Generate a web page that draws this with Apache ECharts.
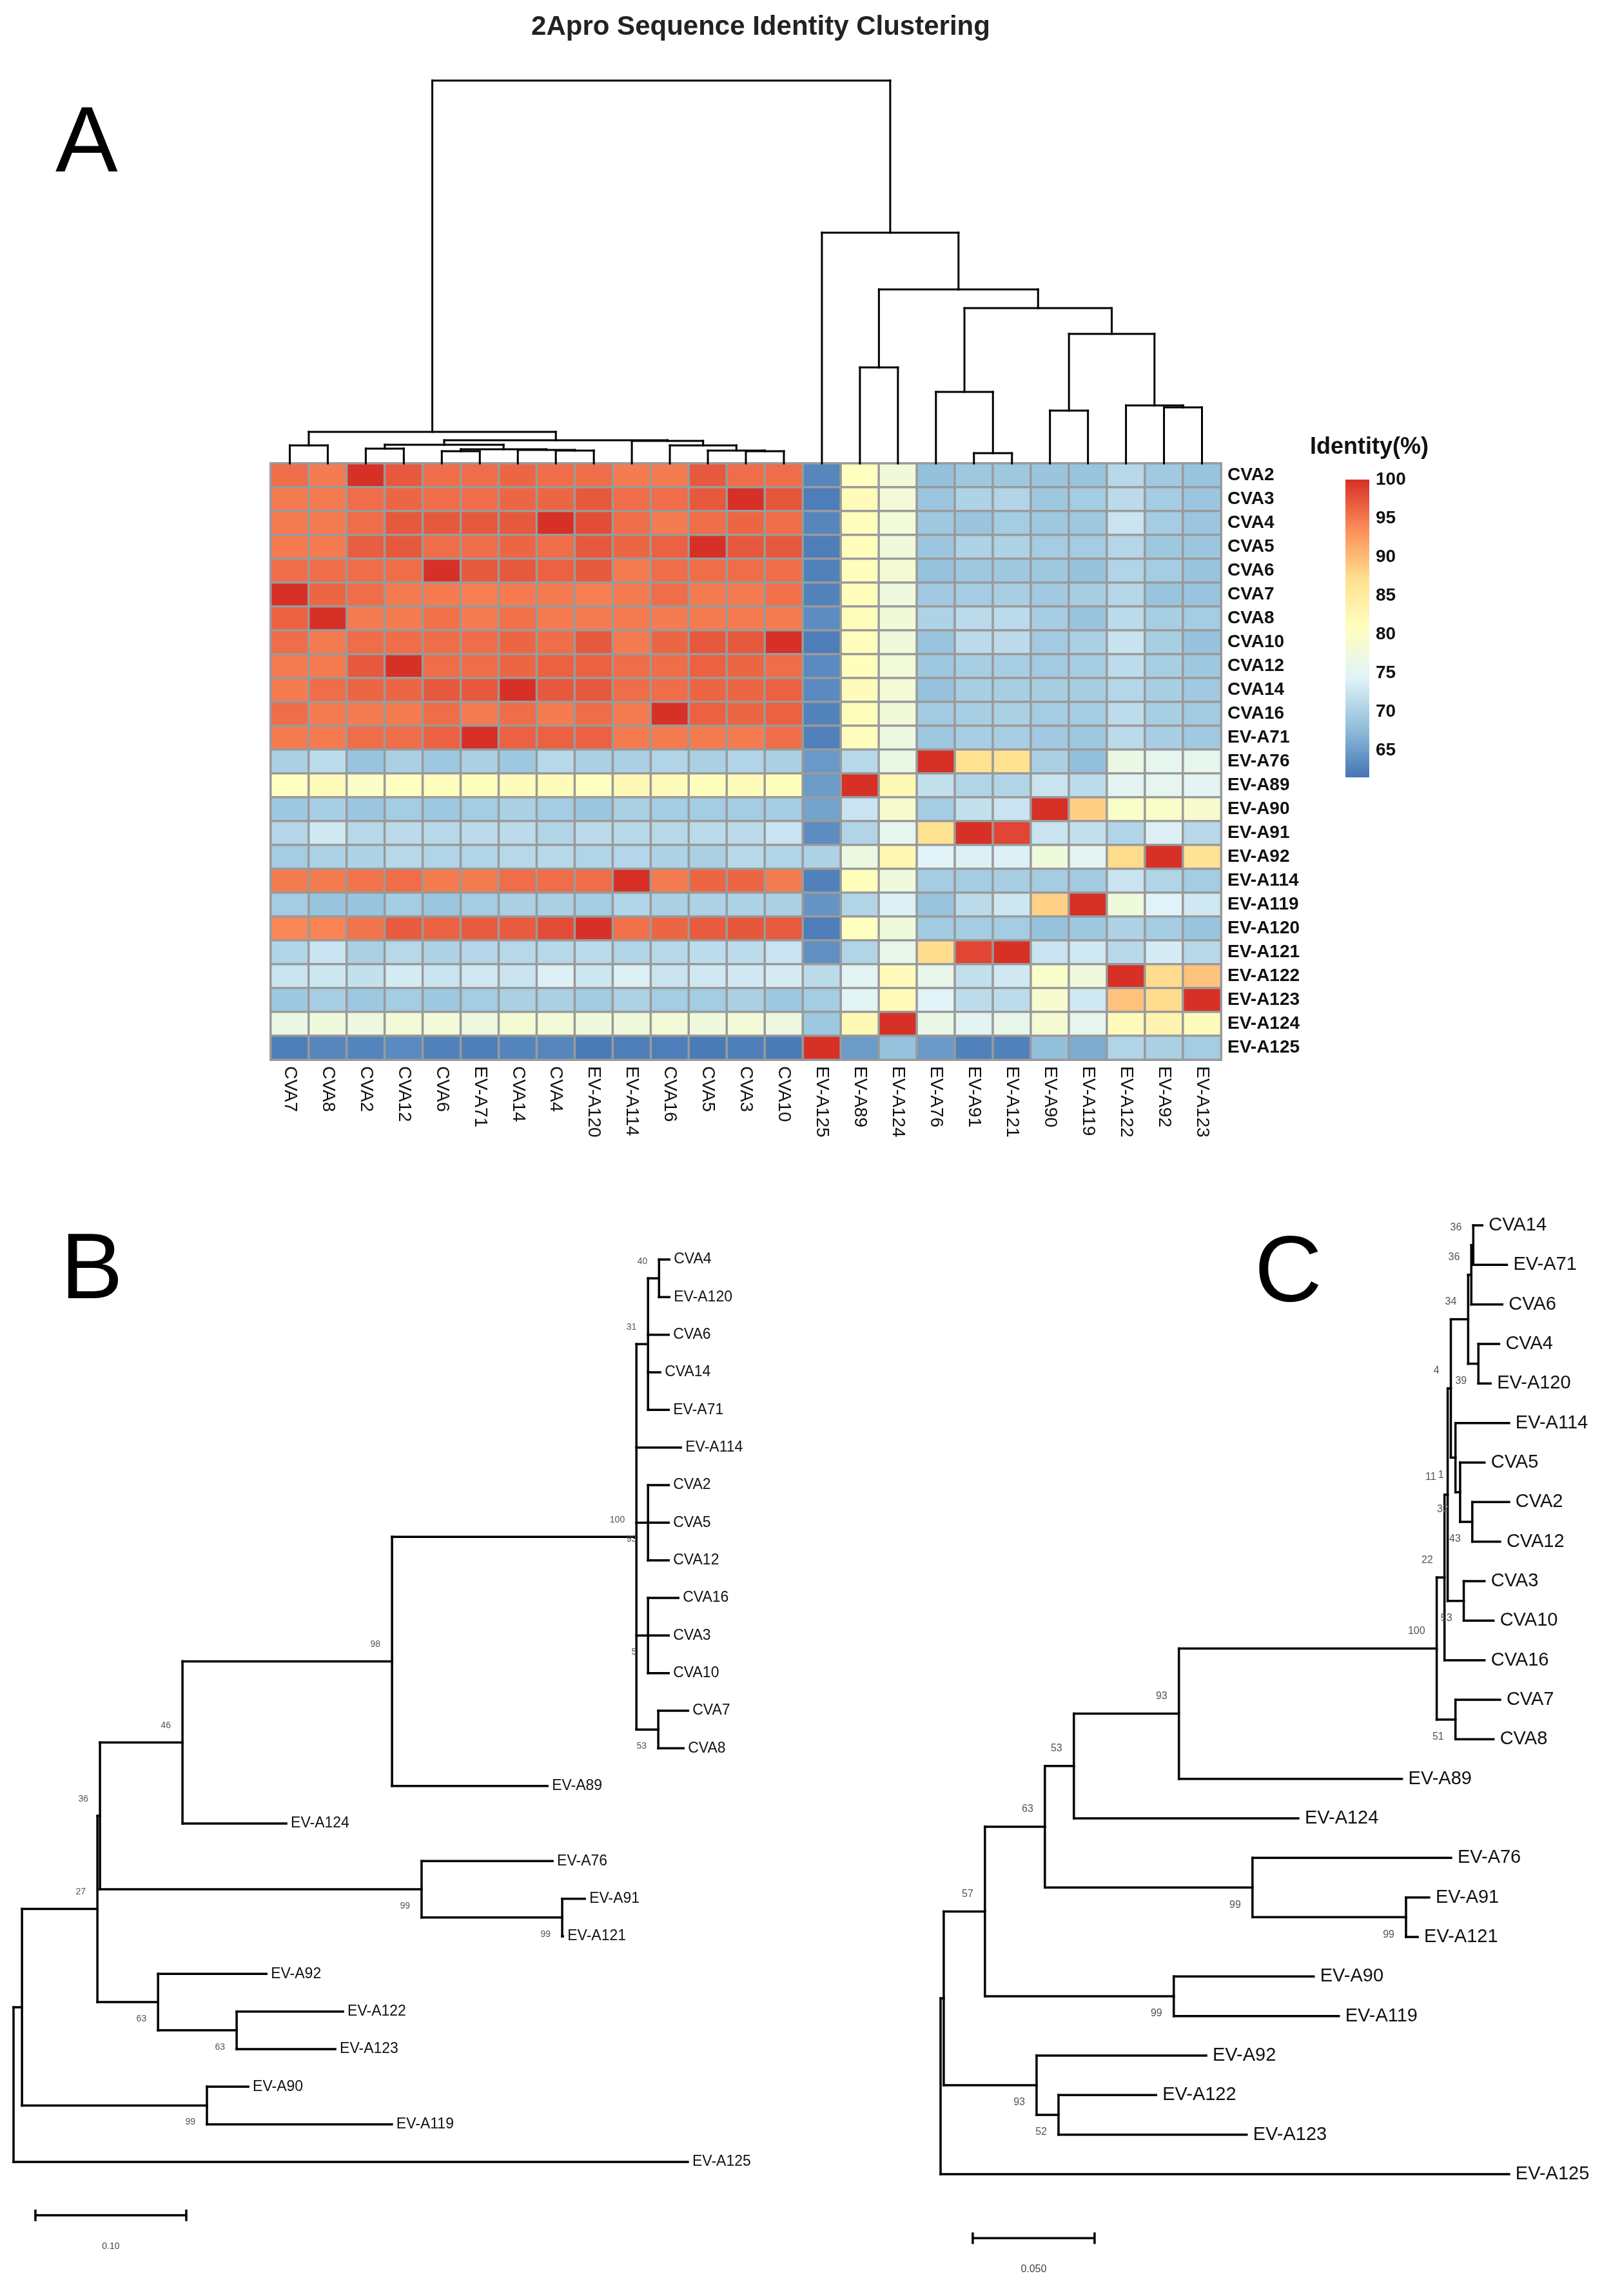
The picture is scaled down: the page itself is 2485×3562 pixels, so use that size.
<!DOCTYPE html>
<html>
<head>
<meta charset="utf-8">
<title>2Apro Sequence Identity Clustering</title>
<script src="https://cdn.jsdelivr.net/npm/echarts@6/dist/echarts.min.js"></script>
<style>
  html, body { margin: 0; padding: 0; background: #fff; }
  #main { width: 2485px; height: 3562px; }
</style>
</head>
<body>
<div id="main"></div>
<script>
// ---------- data ----------
const rowLabels = ['CVA2', 'CVA3', 'CVA4', 'CVA5', 'CVA6', 'CVA7', 'CVA8', 'CVA10', 'CVA12', 'CVA14', 'CVA16',
  'EV-A71', 'EV-A76', 'EV-A89', 'EV-A90', 'EV-A91', 'EV-A92', 'EV-A114', 'EV-A119', 'EV-A120', 'EV-A121',
  'EV-A122', 'EV-A123', 'EV-A124', 'EV-A125'];

// column order after clustering
const colLabels = ['CVA7', 'CVA8', 'CVA2', 'CVA12', 'CVA6', 'EV-A71', 'CVA14', 'CVA4', 'EV-A120', 'EV-A114',
  'CVA16', 'CVA5', 'CVA3', 'CVA10', 'EV-A125', 'EV-A89', 'EV-A124', 'EV-A76', 'EV-A91', 'EV-A121', 'EV-A90',
  'EV-A119', 'EV-A122', 'EV-A92', 'EV-A123'];

// identity (%) : one row per rowLabels entry, values in colLabels order
const identity = [
  [95.8, 94.8, 100, 97.2, 95.8, 95.8, 96.3, 95.8, 95.8, 94.8, 94.8, 97.2, 95.8, 95.8, 63, 80.8, 77.8, 68.2, 69, 69, 68.7, 68.5, 71, 69.2, 68.5],
  [94.8, 94.8, 95.8, 96.3, 95.8, 95.8, 96.3, 96.3, 97.2, 95.8, 95.8, 97.2, 100, 97.4, 62.3, 81.5, 78, 68.8, 70.3, 70.5, 69, 69.5, 71.3, 69.5, 68.8],
  [94.8, 94.8, 95.8, 97.2, 97.2, 97.2, 97.2, 100, 98, 95.8, 94.8, 95.8, 96.3, 95.8, 63, 81, 78, 69, 68.7, 69.5, 69, 69, 72.5, 69.5, 68.8],
  [94.8, 94.8, 96.8, 97.2, 95.8, 95.8, 96.3, 95.8, 97.2, 96.3, 96.6, 100, 97.2, 97.2, 62.3, 81, 77.5, 68.8, 70.3, 70.3, 69.5, 69.5, 70.8, 69, 68.8],
  [95.8, 95.8, 95.8, 95.8, 100, 97.2, 97.2, 96.6, 97.2, 94.8, 95.8, 95.8, 95.8, 95.8, 62.5, 81, 78.5, 68.3, 69, 69, 69, 68.3, 70.5, 69.5, 68.5],
  [100, 96.3, 95.8, 94.8, 94.8, 94.5, 94.8, 94.8, 94.5, 94.8, 95.8, 94.8, 94.8, 95.5, 62.7, 81, 77.3, 69.2, 69.5, 69.8, 69.2, 69.7, 70.8, 68.5, 68.5],
  [96.6, 100, 94.8, 94.8, 95.5, 94.8, 95.5, 94.8, 94.8, 94.8, 94.8, 94.8, 94.8, 94.8, 63.5, 81.2, 77.8, 70.3, 71.3, 71.3, 69.7, 68.5, 71.3, 69.8, 69.5],
  [95.8, 94.8, 95.8, 95.8, 95.8, 95.8, 96.3, 95.8, 97.2, 94.8, 96.3, 97.2, 97.2, 100, 62.3, 81, 77.5, 68.5, 71.3, 71.3, 69.3, 70, 72.3, 69.8, 68.3],
  [94.8, 94.8, 97.2, 100, 95.8, 95.8, 96.3, 96.6, 96.6, 95.8, 95.8, 96.6, 96.3, 95.8, 63.3, 81, 78, 69, 69.8, 69.8, 69.3, 69.7, 71.5, 69.8, 69],
  [94.8, 95.8, 96.3, 96.3, 97.2, 97.2, 100, 97.2, 97.2, 95.8, 95.8, 96.3, 96.3, 96.6, 63.3, 81.5, 78.3, 68.3, 69.8, 69.8, 69.7, 69.7, 70.8, 69.8, 69.2],
  [95.8, 94.8, 94.8, 94.8, 95.8, 94.8, 95.8, 94.8, 95.8, 94.8, 100, 96.6, 96.3, 96.6, 62.7, 81.2, 77.8, 69.3, 69.8, 70, 69.5, 69.7, 71.5, 69.8, 69.3],
  [94.8, 94.8, 95.8, 95.8, 96.6, 100, 96.6, 96.6, 96.6, 94.8, 94.8, 94.8, 94.8, 95.8, 62.5, 81, 77, 69, 69.8, 69.8, 69.2, 69, 71.3, 69.8, 69.2],
  [70, 71.5, 68.5, 70, 69, 70, 69, 71, 70, 70, 70.5, 70, 70.5, 70, 64.6, 71, 76.5, 100, 87, 87, 70, 68, 76.5, 75.5, 75.5],
  [80.5, 81.5, 80, 80.5, 81, 81, 81.5, 81.5, 80.5, 82, 81.5, 81, 81.5, 81, 64.8, 100, 82, 72, 70.5, 70.5, 72.5, 71.5, 75, 75.5, 75],
  [69, 69.8, 68.8, 69.5, 69, 69.5, 70, 69.5, 68.8, 70, 69.5, 69.5, 69.5, 69.5, 65.5, 72.5, 79, 69.5, 72, 72.5, 100, 88.5, 79.5, 79.5, 79],
  [70.8, 73, 71, 71.3, 71, 71.3, 71.3, 70.5, 71.3, 71, 71, 71.3, 71.3, 72.5, 63.5, 70.5, 75.5, 87, 100, 98.5, 72.5, 72, 70.5, 74, 71],
  [69.5, 70.3, 70.3, 71, 70.5, 70.5, 71, 71, 70.5, 70.8, 70.3, 70, 71, 70.5, 70.3, 77, 82.5, 74.5, 74, 74, 77.5, 75, 87.5, 100, 86.5],
  [94.8, 94.8, 95.3, 95.8, 94.8, 94.8, 95.8, 95.8, 95.8, 100, 94.8, 96.3, 96.3, 94.8, 62.5, 81, 77.3, 69.5, 69.5, 69.8, 69.5, 69.3, 72.5, 70.5, 69.5],
  [69.5, 68.5, 68.5, 69.5, 68.8, 69.5, 70, 70, 69.5, 70.5, 70, 70.3, 70.3, 70, 64.3, 70.5, 74, 68.5, 71.3, 72.8, 88.3, 100, 77.5, 74.3, 73],
  [94, 94.3, 95.3, 97, 96.5, 97, 97, 98, 100, 95.5, 96.3, 97, 97.3, 97, 62.3, 80.5, 77.5, 69.3, 69.5, 69.5, 68.3, 69, 70.3, 69.5, 68.5],
  [70.5, 72.5, 70, 71, 70.3, 70.8, 71, 71, 71.3, 70.5, 71, 71.5, 71.5, 72.5, 63.8, 70.5, 76, 87.5, 98.5, 100, 72.5, 73, 71, 73.5, 71],
  [72.5, 72.8, 72, 73.3, 72.5, 73, 72.5, 74, 72.8, 74, 72.5, 73, 73, 73.5, 71.3, 74.8, 81.5, 76, 72, 73, 79.5, 77.5, 100, 87.5, 89.5],
  [69, 69.8, 69, 69.5, 69, 69.5, 70, 70, 69.3, 70.3, 69.5, 69.5, 70, 69, 69.5, 74.8, 81.5, 74.5, 71.5, 71.5, 79, 73, 89.5, 87.5, 100],
  [76.5, 77.5, 77, 78, 78, 77, 78.5, 78, 77.5, 77.5, 78, 77.5, 78, 77, 69, 82, 100, 76.5, 75, 76, 78.5, 75.5, 81.5, 83, 81.5],
  [62.3, 63, 62.8, 63.3, 62.5, 62.3, 62.8, 63, 62, 62.3, 62.3, 62, 62.3, 62, 100, 64.8, 68.3, 64.6, 62.5, 62.5, 68, 66.3, 70.5, 70, 69.5]
];

const identityMin = 61.5;
const identityMax = 100;
const legendTicks = [65, 70, 75, 80, 85, 90, 95, 100];

// column dendrogram: [left, right, height]; a string is a leaf, a number is an earlier merge
const colMerges = [
  ['CVA7', 'CVA8', 2.8],
  ['CVA2', 'CVA12', 2.3],
  ['CVA6', 'EV-A71', 1.9],
  ['CVA4', 'EV-A120', 2.0],
  ['CVA14', 3, 2.1],
  [2, 4, 2.2],
  [1, 5, 2.9],
  ['CVA3', 'CVA10', 1.9],
  ['CVA5', 7, 2.0],
  ['CVA16', 8, 2.8],
  ['EV-A114', 9, 3.5],
  [6, 10, 3.6],
  [0, 11, 4.9],
  ['EV-A91', 'EV-A121', 1.6],
  ['EV-A76', 13, 11.1],
  ['EV-A92', 'EV-A123', 8.7],
  ['EV-A122', 15, 9.0],
  ['EV-A90', 'EV-A119', 8.2],
  [17, 16, 20.1],
  [14, 18, 24.1],
  ['EV-A89', 'EV-A124', 14.9],
  [20, 19, 27.0],
  ['EV-A125', 21, 35.8],
  [12, 22, 59.4]
];

// phylogenetic trees (Newick, bootstrap values as node labels)
const treeB = '(((((((((CVA4:0.0068,EV-A120:0.0068)40:0.0073,CVA6:0.0137,CVA14:0.0081,EV-A71:0.0137)31:0.0077,' +
  'EV-A114:0.0295,(CVA2:0.0137,CVA5:0.0137,CVA12:0.0137)93:0.0077,(CVA16:0.0201,CVA3:0.0137,CVA10:0.0137)5:0.0077,' +
  '(CVA7:0.0197,CVA8:0.0167)53:0.0145)100:0.162,EV-A89:0.103)98:0.1389,EV-A124:0.0688)46:0.0547,' +
  '(EV-A76:0.0868,(EV-A91:0.015,EV-A121:0.0005)99:0.0932)99:0.2132)36:0.0017,' +
  '(EV-A92:0.0718,(EV-A122:0.0705,EV-A123:0.0654)63:0.0521)63:0.0402)27:0.050,' +
  '(EV-A90:0.0274,EV-A119:0.1226)99:0.1226):0.0056,EV-A125:0.447);';

const treeC = '(((((((((((((CVA14:0.0037,EV-A71:0.0138)36:0.0008,CVA6:0.0127)36:0.0013,' +
  '(CVA4:0.0085,EV-A120:0.005)39:0.0042)34:0.0071,(EV-A114:0.022,(CVA5:0.01,(CVA2:0.0151,CVA12:0.0114)43:0.005)32:0.0019)1:0.0019)4:0.0013,' +
  '(CVA3:0.0085,CVA10:0.0122)53:0.0066)11:0.0013,CVA16:0.0164)22:0.0032,(CVA7:0.0183,CVA8:0.0156)51:0.0077)100:0.1058,' +
  'EV-A89:0.0915)93:0.0431,EV-A124:0.0921)53:0.0119,(EV-A76:0.0815,(EV-A91:0.0095,EV-A121:0.0048)99:0.063)99:0.0852)63:0.0246,' +
  '(EV-A90:0.0574,EV-A119:0.0677)99:0.0775)57:0.0169,(EV-A92:0.0696,(EV-A122:0.04,EV-A123:0.0772)52:0.009)93:0.0381):0.0013,' +
  'EV-A125:0.2333);';

const scaleB = 0.1;
const scaleC = 0.05;

// ---------- helpers ----------
const palette = ['#4575b4', '#91bfdb', '#e0f3f8', '#ffffbf', '#fee090', '#fc8d59', '#d73027'];
const FONT = '"Liberation Sans", Arial, sans-serif';

function parseNewick(s) {
  let i = 0;
  function node() {
    const n = { children: [], name: '', len: 0 };
    if (s[i] === '(') {
      i++;
      n.children.push(node());
      while (s[i] === ',') { i++; n.children.push(node()); }
      i++;
    }
    let start = i;
    while (i < s.length && ',):;'.indexOf(s[i]) < 0) i++;
    n.name = s.slice(start, i);
    if (s[i] === ':') {
      i++; start = i;
      while (i < s.length && ',);'.indexOf(s[i]) < 0) i++;
      n.len = parseFloat(s.slice(start, i));
    }
    return n;
  }
  return node();
}

function layoutTree(newick) {
  const root = parseNewick(newick);
  const segs = [], leaves = [], supports = [];
  let k = 0;
  (function walk(n, x) {
    n.x = x;
    if (!n.children.length) {
      n.y = k++;
      leaves.push({ x: n.x, y: n.y, text: n.name });
      return;
    }
    n.children.forEach(c => walk(c, x + c.len));
    const first = n.children[0], last = n.children[n.children.length - 1];
    n.y = (first.y + last.y) / 2;
    segs.push([n.x, first.y, n.x, last.y]);
    n.children.forEach((c, i) => {
      segs.push([n.x, c.y, c.x, c.y]);
      if (c.children.length && c.name) supports.push({ x: c.x, y: c.y, text: c.name, first: i === 0 });
    });
  })(root, 0);
  return { segs, leaves, supports };
}

function dendroSegments(merges, labels) {
  const nodes = [], segs = [];
  const get = ref => typeof ref === 'number' ? nodes[ref] : { x: labels.indexOf(ref) + 0.5, h: 0 };
  merges.forEach(([a, b, h]) => {
    const A = get(a), B = get(b);
    segs.push([A.x, A.h, A.x, h], [A.x, h, B.x, h], [B.x, h, B.x, B.h]);
    nodes.push({ x: (A.x + B.x) / 2, h: h });
  });
  return segs;
}

function lineLayer(axis, segs, width) {
  return {
    type: 'custom', xAxisIndex: axis, yAxisIndex: axis, clip: false, silent: true,
    data: segs,
    encode: { x: [0, 2], y: [1, 3] },
    renderItem: (params, api) => {
      const a = api.coord([api.value(0), api.value(1)]);
      const b = api.coord([api.value(2), api.value(3)]);
      return {
        type: 'line',
        shape: { x1: a[0], y1: a[1], x2: b[0], y2: b[1] },
        style: { stroke: '#000', lineWidth: width, lineCap: 'square' }
      };
    }
  };
}

function textLayer(axis, items, size, color) {
  return {
    type: 'custom', xAxisIndex: axis, yAxisIndex: axis, clip: false, silent: true,
    data: items.map(d => [d.x, d.y]),
    encode: { x: 0, y: 1 },
    renderItem: (params, api) => {
      const d = items[params.dataIndex];
      const p = api.coord([api.value(0), api.value(1)]);
      return {
        type: 'text',
        x: p[0] + (d.dx || 0), y: p[1] + (d.dy || 0),
        style: {
          text: d.text, fill: color, fontSize: size, fontFamily: FONT,
          align: d.align || 'left', verticalAlign: 'middle'
        }
      };
    }
  };
}

function scaleBarLayer(axis, x0, y, len, label, size) {
  return {
    type: 'custom', xAxisIndex: axis, yAxisIndex: axis, clip: false, silent: true,
    data: [[x0, y, x0 + len]],
    encode: { x: [0, 2], y: 1 },
    renderItem: (params, api) => {
      const a = api.coord([api.value(0), api.value(1)]);
      const b = api.coord([api.value(2), api.value(1)]);
      const st = { stroke: '#000', lineWidth: 3.5 };
      return {
        type: 'group',
        children: [
          { type: 'line', shape: { x1: a[0], y1: a[1], x2: b[0], y2: b[1] }, style: st },
          { type: 'line', shape: { x1: a[0], y1: a[1] - 9, x2: a[0], y2: a[1] + 9 }, style: st },
          { type: 'line', shape: { x1: b[0], y1: b[1] - 9, x2: b[0], y2: b[1] + 9 }, style: st },
          { type: 'text', x: (a[0] + b[0]) / 2, y: a[1] + 48,
            style: { text: label, fill: '#444', fontSize: size, fontFamily: FONT, align: 'center', verticalAlign: 'middle' } }
        ]
      };
    }
  };
}

function supportItems(list, dy) {
  return list.map(s => ({ x: s.x, y: s.y, text: s.text, align: 'right', dx: -18, dy: s.first ? -dy : dy }));
}

// ---------- build ----------
const heatData = [];
identity.forEach((row, r) => row.forEach((v, c) => heatData.push([c, r, v])));

const tB = layoutTree(treeB);
const tC = layoutTree(treeC);
const leafB = tB.leaves.map(l => Object.assign({ dx: 7 }, l));
const leafC = tC.leaves.map(l => Object.assign({ dx: 10 }, l));

const chart = echarts.init(document.getElementById('main'));

const hidden = { show: false };
const option = {
  backgroundColor: '#ffffff',
  animation: false,
  grid: [
    { left: 420, top: 719, width: 1474, height: 925 },   // heatmap
    { left: 420, top: 125, width: 1474, height: 594 },   // column dendrogram
    { left: 2087, top: 744, width: 37, height: 462 },    // colour bar
    { left: 21, top: 1954, width: 1170, height: 1400 },  // tree B
    { left: 1459, top: 1901, width: 1020.6, height: 1472 } // tree C
  ],
  xAxis: [
    {
      type: 'category', gridIndex: 0, data: colLabels, position: 'bottom',
      axisLine: hidden, axisTick: hidden, splitLine: hidden,
      axisLabel: { rotate: -90, fontSize: 28, color: '#111', fontFamily: FONT, margin: 10, interval: 0 }
    },
    { type: 'value', gridIndex: 1, min: 0, max: 25, show: false },
    { type: 'value', gridIndex: 2, min: 0, max: 1, show: false },
    { type: 'value', gridIndex: 3, min: 0, max: 0.5, show: false },
    { type: 'value', gridIndex: 4, min: 0, max: 0.27, show: false }
  ],
  yAxis: [
    {
      type: 'category', gridIndex: 0, data: rowLabels, inverse: true, position: 'right',
      axisLine: hidden, axisTick: hidden, splitLine: hidden,
      axisLabel: { fontSize: 28, fontWeight: 'bold', color: '#111', fontFamily: FONT, margin: 10, interval: 0 }
    },
    { type: 'value', gridIndex: 1, min: 0, max: 59.4, show: false },
    {
      type: 'value', gridIndex: 2, min: identityMin, max: identityMax, position: 'right',
      axisLine: hidden, axisTick: hidden, splitLine: hidden,
      axisLabel: { customValues: legendTicks, fontSize: 28, fontWeight: 'bold', color: '#111', fontFamily: FONT, margin: 10 }
    },
    { type: 'value', gridIndex: 3, min: 0, max: 24, inverse: true, show: false },
    { type: 'value', gridIndex: 4, min: 0, max: 24, inverse: true, show: false }
  ],
  visualMap: {
    show: false, type: 'continuous', seriesIndex: 0, dimension: 2,
    min: identityMin, max: identityMax,
    inRange: { color: palette }
  },
  graphic: [
    { type: 'text', x: 1180, y: 42, style: { text: '2Apro Sequence Identity Clustering', font: 'bold 42px ' + FONT, fill: '#222', align: 'center', verticalAlign: 'middle', textAlign: 'center', textVerticalAlign: 'middle' } },
    { type: 'text', x: 86, y: 226, style: { text: 'A', font: '145px ' + FONT, fill: '#000', align: 'left', verticalAlign: 'middle', textAlign: 'left', textVerticalAlign: 'middle' } },
    { type: 'text', x: 94, y: 1974, style: { text: 'B', font: '145px ' + FONT, fill: '#000', align: 'left', verticalAlign: 'middle', textAlign: 'left', textVerticalAlign: 'middle' } },
    { type: 'text', x: 1946, y: 1979, style: { text: 'C', font: '145px ' + FONT, fill: '#000', align: 'left', verticalAlign: 'middle', textAlign: 'left', textVerticalAlign: 'middle' } },
    { type: 'text', x: 2032, y: 694, style: { text: 'Identity(%)', font: 'bold 36px ' + FONT, fill: '#111', align: 'left', verticalAlign: 'middle', textAlign: 'left', textVerticalAlign: 'middle' } }
  ],
  series: [
    {
      type: 'heatmap', xAxisIndex: 0, yAxisIndex: 0, data: heatData, silent: true,
      itemStyle: { borderColor: '#9a9a9a', borderWidth: 3.5 }
    },
    lineLayer(1, dendroSegments(colMerges, colLabels), 3),
    {
      type: 'custom', xAxisIndex: 2, yAxisIndex: 2, clip: false, silent: true,
      data: [[0, identityMax, 1, identityMin]],
      encode: { x: [0, 2], y: [1, 3] },
      renderItem: (params, api) => {
        const a = api.coord([api.value(0), api.value(1)]);
        const b = api.coord([api.value(2), api.value(3)]);
        const stops = palette.slice().reverse().map((c, i) => ({ offset: i / (palette.length - 1), color: c }));
        return {
          type: 'rect',
          shape: { x: a[0], y: a[1], width: b[0] - a[0], height: b[1] - a[1] },
          style: { fill: new echarts.graphic.LinearGradient(0, 0, 0, 1, stops) }
        };
      }
    },
    lineLayer(3, tB.segs, 3.5),
    textLayer(3, leafB, 23, '#111'),
    textLayer(3, supportItems(tB.supports, 26), 14, '#555'),
    scaleBarLayer(3, 0.0145, 25.42, scaleB, '0.10', 14),
    lineLayer(4, tC.segs, 3.5),
    textLayer(4, leafC, 29, '#111'),
    textLayer(4, supportItems(tC.supports, 27), 16, '#555'),
    scaleBarLayer(4, 0.0132, 25.62, scaleC, '0.050', 16)
  ]
};

chart.setOption(option);
window.addEventListener('resize', () => chart.resize());
</script>
</body>
</html>
